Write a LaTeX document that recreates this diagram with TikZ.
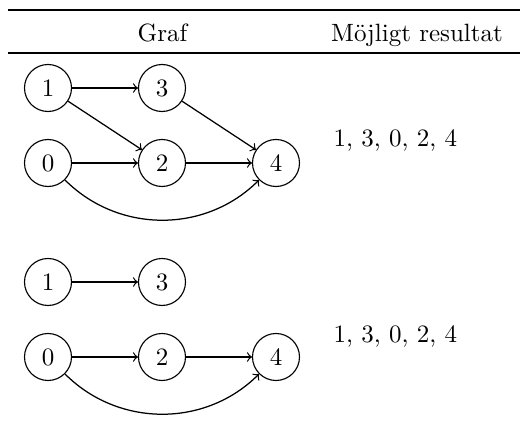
\documentclass[tikz,border=0pt]{standalone}
\usetikzlibrary{arrows}
\begin{document}
\begin{tikzpicture}[x=0.4pt,y=-0.4pt,
  vert/.style={draw,circle,minimum size=18.8pt,inner sep=0pt,line width=0.45pt},
  edge/.style={->,line width=0.5pt},
  txt/.style={inner sep=0pt}]
\useasboundingbox (0,0) rectangle (520,430);
\coordinate (tl) at (8,10);
\coordinate (tr) at (520,10);
\coordinate (ml) at (8,53);
\coordinate (mr) at (520,53);
\draw[line width=0.8pt] (tl) -- (tr);
\draw[line width=0.5pt] (ml) -- (mr);
\node[txt,anchor=base] (hg) at (162.5,42) {Graf};
\node[txt,anchor=base] (hr) at (417,42) {Möjligt resultat};
% graph 1
\node[vert] (a1) at (48,88) {1};
\node[vert] (a3) at (162,88) {3};
\node[vert] (a0) at (48,163) {0};
\node[vert] (a2) at (162,163) {2};
\node[vert] (a4) at (276,163) {4};
\draw[edge] (a1) -- (a3);
\draw[edge] (a1) -- (a2);
\draw[edge] (a0) -- (a2);
\draw[edge] (a3) -- (a4);
\draw[edge] (a2) -- (a4);
\draw[edge] (a0) to[bend right=45] (a4);
\node[txt,anchor=base west] (r1) at (333,147) {1, 3, 0, 2, 4};
% graph 2
\node[vert] (b1) at (48,282) {1};
\node[vert] (b3) at (162,282) {3};
\node[vert] (b0) at (48,357) {0};
\node[vert] (b2) at (162,357) {2};
\node[vert] (b4) at (276,357) {4};
\draw[edge] (b1) -- (b3);
\draw[edge] (b0) -- (b2);
\draw[edge] (b2) -- (b4);
\draw[edge] (b0) to[bend right=45] (b4);
\node[txt,anchor=base west] (r2) at (333,343) {1, 3, 0, 2, 4};
\end{tikzpicture}
\end{document}
